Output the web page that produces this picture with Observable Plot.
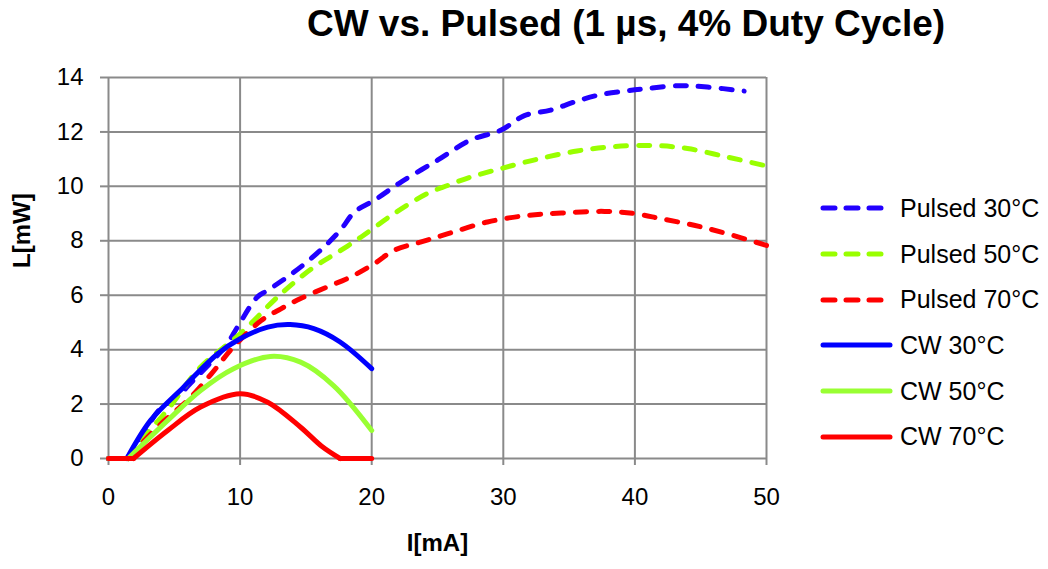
<!DOCTYPE html>
<html>
<head>
<meta charset="utf-8">
<script src="https://cdn.jsdelivr.net/npm/d3@7"></script>
<script src="https://cdn.jsdelivr.net/npm/@observablehq/plot@0.6"></script>
<style>
  html, body { margin: 0; padding: 0; background: #fff; }
  #wrap { position: relative; width: 1048px; height: 569px; font-family: "Liberation Sans", Arial, sans-serif; }
  #title { position: absolute; left: 626px; top: 0; transform: translateX(-50%); white-space: nowrap;
           font-size: 37px; font-weight: bold; line-height: 48px; color: #000; }
  #chart { position: absolute; left: 0; top: 60px; }
  #legend { position: absolute; left: 820px; top: 0; }
  .row { position: absolute; left: 0; height: 30px; display: flex; align-items: center; white-space: nowrap;
         font-size: 25px; color: #000; }
  .row svg { margin-right: 7px; }
</style>
</head>
<body>
<div id="wrap">
  <div id="title">CW vs. Pulsed (1 µs, 4% Duty Cycle)</div>
  <div id="chart"></div>
  <div id="legend"></div>
</div>
<script>
// ---- data ----
const xTicks = [0, 10, 20, 30, 40, 50];
const yTicks = [0, 2, 4, 6, 8, 10, 12, 14];

const seriesNames = ["Pulsed 30°C", "Pulsed 50°C", "Pulsed 70°C", "CW 30°C", "CW 50°C", "CW 70°C"];
const seriesColors = ["#2200ff", "#99ff00", "#ff0000", "#0000ff", "#99ff33", "#ff0000"];
const seriesDashed = [true, true, true, false, false, false];

const pulsed30_I = [0, 1.4, 2.5, 3.8, 5.3, 6.5, 7.8, 9.0, 9.8, 11.3, 12.1, 14.1, 16.1, 17.6, 18.7, 20.2, 22.2, 25, 27.5, 29.8, 31.6, 33.6, 35.4, 37.2, 39.2, 41, 43.5, 45.5, 48.3];
const pulsed30_L = [0, 0, 0.75, 1.76, 2.3, 2.9, 3.54, 4.2, 4.83, 5.93, 6.18, 6.85, 7.65, 8.38, 9.06, 9.49, 10.15, 10.96, 11.7, 12.06, 12.6, 12.8, 13.1, 13.35, 13.5, 13.6, 13.7, 13.65, 13.5];

const pulsed50_I = [0, 1.5, 2.7, 4.5, 7, 10, 13.1, 15.6, 17.5, 19.2, 21.7, 24.2, 25.8, 27.5, 29.8, 32.6, 35.6, 38.4, 41.5, 44, 47, 50];
const pulsed50_L = [0, 0, 0.78, 1.8, 3.36, 4.58, 6.05, 7.03, 7.6, 8.14, 9.0, 9.73, 10.04, 10.34, 10.65, 11.0, 11.3, 11.46, 11.5, 11.39, 11.08, 10.75];

const pulsed70_I = [0, 1.5, 3, 4.5, 6, 7.8, 9.5, 11.6, 13.1, 14.6, 16.6, 18.4, 20.2, 21.7, 23.7, 25.8, 28.8, 31.8, 34.4, 37.7, 40, 42, 44.5, 47, 50];
const pulsed70_L = [0, 0, 0.8, 1.5, 2.13, 3.1, 4.1, 5.07, 5.5, 5.88, 6.3, 6.67, 7.16, 7.65, 7.95, 8.26, 8.69, 8.93, 9.02, 9.08, 9.0, 8.81, 8.57, 8.26, 7.83];

const cw30_I = [0, 1.4, 3.2, 5.7, 8.3, 10, 12.1, 13.8, 15.6, 17.6, 20];
const cw30_L = [0, 0, 1.4, 2.62, 3.85, 4.4, 4.83, 4.92, 4.77, 4.28, 3.3];

const cw50_I = [0, 1.5, 4.5, 7, 9.5, 12.3, 14.6, 17.1, 20];
const cw50_L = [0, 0, 1.4, 2.5, 3.3, 3.75, 3.54, 2.68, 1.03];

const cw70_I = [0, 1.9, 4.5, 7, 10, 12.1, 14.6, 16.2, 17.6, 20];
const cw70_L = [0, 0, 1.03, 1.89, 2.38, 2.07, 1.15, 0.45, 0, 0];

const seriesI = [pulsed30_I, pulsed50_I, pulsed70_I, cw30_I, cw50_I, cw70_I];
const seriesL = [pulsed30_L, pulsed50_L, pulsed70_L, cw30_L, cw50_L, cw70_L];

// ---- chart ----
const gray = "#8a8a8a";
const dash = "11,12";

const lineMarks = [];
seriesNames.forEach((name, k) => {
  const rows = seriesI[k].map((I, j) => ({I, L: seriesL[k][j]}));
  // flat zero runs at the ends are straight; the rest is smoothed
  let a = 0;
  while (a + 1 < rows.length && rows[a + 1].L === 0) a++;
  let b = rows.length - 1;
  while (b - 1 > a && rows[b - 1].L === 0) b--;
  const opts = (curve) => ({
    x: "I", y: "L",
    stroke: seriesColors[k],
    strokeWidth: 5,
    strokeLinecap: "round",
    strokeLinejoin: "round",
    strokeDasharray: seriesDashed[k] ? dash : null,
    curve
  });
  if (a > 0) lineMarks.push(Plot.line(rows.slice(0, a + 1), opts("linear")));
  lineMarks.push(Plot.line(rows.slice(a, b + 1), opts("catmull-rom")));
  if (b < rows.length - 1) lineMarks.push(Plot.line(rows.slice(b), opts("linear")));
});

const chart = Plot.plot({
  width: 1048,
  height: 509,
  marginLeft: 108,
  marginRight: 282,
  marginTop: 17,
  marginBottom: 111,
  style: { fontFamily: "'Liberation Sans', Arial, sans-serif", background: "white", overflow: "visible", color: "#000" },
  x: { domain: [0, 50] },
  y: { domain: [0, 14] },
  marks: [
    Plot.gridX(xTicks, { stroke: gray, strokeOpacity: 1, strokeWidth: 2 }),
    Plot.gridY(yTicks, { stroke: gray, strokeOpacity: 1, strokeWidth: 2 }),
    Plot.axisX(xTicks, { tickSize: 7, tickPadding: 22, stroke: gray, strokeWidth: 2, fontSize: 24, label: null }),
    Plot.axisY(yTicks, { tickSize: 8, tickPadding: 17, stroke: gray, strokeWidth: 2, fontSize: 24, label: null }),
    ...lineMarks,
    Plot.text(["I[mA]"], { frameAnchor: "bottom", dy: 92, fontSize: 24, fontWeight: "bold", fill: "#000" }),
    Plot.text(["L[mW]"], { frameAnchor: "left", dx: -86, rotate: -90, fontSize: 24, fontWeight: "bold", fill: "#000" })
  ]
});
document.getElementById("chart").appendChild(chart);

// ---- legend ----
const legend = document.getElementById("legend");
seriesNames.forEach((name, k) => {
  const row = document.createElement("div");
  row.className = "row";
  row.style.top = (208.3 + 45.7 * k - 15) + "px";
  const w = 73;
  row.innerHTML =
    `<svg width="${w}" height="10" viewBox="0 0 ${w} 10"><line x1="3" y1="5" x2="${seriesDashed[k] ? 66 : 70}" y2="5" stroke="${seriesColors[k]}" stroke-width="5" stroke-linecap="round" ${seriesDashed[k] ? `stroke-dasharray="12,11"` : ""}/></svg><span>${name}</span>`;
  legend.appendChild(row);
});
</script>
</body>
</html>
